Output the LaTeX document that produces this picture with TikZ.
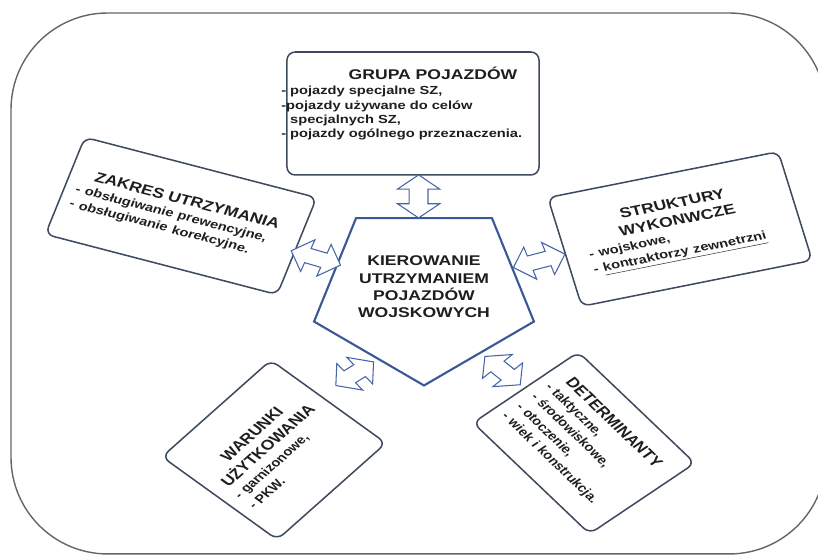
\documentclass[tikz,border=0pt]{standalone}
\usepackage{fontspec}
\setmainfont{Liberation Sans}
\usetikzlibrary{shapes.geometric,shapes.arrows,calc}
\definecolor{framegray}{HTML}{5F6670}
\definecolor{boxline}{HTML}{3E4A5E}
\definecolor{pentablue}{HTML}{3A5898}
\definecolor{arrowblue}{HTML}{4565A8}
\definecolor{textdark}{HTML}{1E1E1E}
\newcommand{\boxtitle}[1]{{\centering\fontsize{12}{14.6}\selectfont #1\par}}
\begin{document}
\begin{tikzpicture}[x=0.024cm, y=-0.03cm, xscale=1.25]
    \tikzstyle{infobox} = [draw=boxline, line width=1.3pt, rounded corners=7pt, fill=white, transform shape, inner sep=0pt, text=textdark, font=\bfseries\fontsize{10}{13}\selectfont]
    \tikzstyle{rotbox} = [infobox, align=left]
    \tikzstyle{pentabox} = [regular polygon, regular polygon sides=5, shape border rotate=180, draw=pentablue, line width=1.8pt, fill=white, transform shape, minimum size=5.55cm, inner sep=0pt]
    \tikzstyle{titletext} = [transform shape, inner sep=0pt, text=textdark, font=\bfseries\fontsize{12}{14.8}\selectfont]
    \tikzstyle{bodytext} = [transform shape, inner sep=0pt, text=textdark, align=left, font=\bfseries\fontsize{10}{12.2}\selectfont]
    \tikzstyle{dblarrow} = [double arrow, draw=arrowblue, line width=0.9pt, fill=white, transform shape, inner sep=0.21cm, minimum width=1.0cm, double arrow head extend=0.28cm, double arrow tip angle=100]

    \useasboundingbox (0,0) rectangle (818,555);

    % Outer frame
    \draw [draw=framegray, line width=1.2pt, rounded corners=2.9cm] (11,13) rectangle (826,554);

    % Centre
    \node [pentabox] (kier) at (424,293) {};
    \node [titletext, align=center] (kiertext) at (424,287) {KIEROWANIE\\UTRZYMANIEM\\POJAZDÓW\\WOJSKOWYCH};

    % Top box
    \node [infobox, minimum width=6.05cm, minimum height=3.69cm] (grupa) at (413,113.5) {};
    \node [titletext] (grupatitle) at (433,73) {GRUPA POJAZDÓW};
    \node [bodytext, anchor=north west] (grupalist) at (281,86) {- pojazdy specjalne SZ,\\-pojazdy używane do celów\\\phantom{- }specjalnych SZ,\\- pojazdy ogólnego przeznaczenia.};

    % Side boxes
    \node [rotbox, rotate=-18, minimum width=5.85cm, minimum height=3.06cm, text width=5.3cm] (zakres) at (181,216) {\boxtitle{ZAKRES UTRZYMANIA}- obsługiwanie prewencyjne,\\- obsługiwanie korekcyjne.};
    \node [rotbox, rotate=14, minimum width=5.7cm, minimum height=3.36cm, text width=4.6cm] (struktury) at (680,229) {\boxtitle{STRUKTURY\\WYKONWCZE}- wojskowe,\\- \underline{kontraktorzy zewnetrzni}};

    % Bottom boxes
    \node [rotbox, rotate=48, minimum width=3.9cm, minimum height=3.72cm, text width=3.3cm] (warunki) at (274,450) {\boxtitle{WARUNKI\\UŻYTKOWANIA}- garnizonowe,\\- PKW.};
    \node [rotbox, rotate=-50, minimum width=4.35cm, minimum height=3.3cm, text width=3.75cm] (determinanty) at (584,443) {\boxtitle{DETERMINANTY}- taktyczne,\\- środowiskowe,\\- otoczenie,\\- wiek i konstrukcja.};

    % Block arrows
    \node [dblarrow, rotate=90, minimum height=1.29cm] (arrgrupa) at ($(kier.90)!0.5!(grupa.south)$) {};
    \node [dblarrow, rotate=-20, minimum height=1.26cm] (arrzakres) at ($(kier.162)!0.5!(zakres.east)$) {};
    \node [dblarrow, rotate=18, minimum height=1.3cm] (arrstruktury) at ($(kier.18)!0.5!(struktury.west)$) {};
    \node [dblarrow, rotate=38, minimum height=1.15cm] (arrwarunki) at ($(kier.234)!0.5!(warunki.east)+(6,-4)$) {};
    \node [dblarrow, rotate=-45, minimum height=1.2cm] (arrdeterminanty) at ($(kier.306)!0.5!(determinanty.west)$) {};
\end{tikzpicture}
\end{document}
